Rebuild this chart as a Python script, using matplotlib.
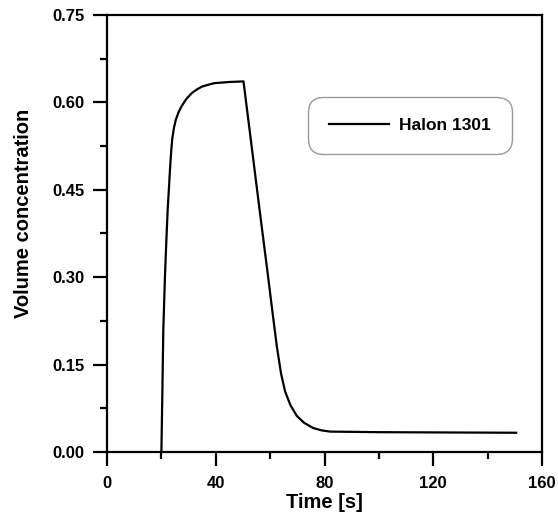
import matplotlib
matplotlib.use("Agg")
import matplotlib.pyplot as plt
from matplotlib.ticker import MultipleLocator, FormatStrFormatter

plt.rcParams['font.family'] = ['Liberation Sans', 'DejaVu Sans']
plt.rcParams['font.weight'] = 'bold'

time_s = [20.0, 20.35, 20.7, 21.3, 21.8, 22.3, 22.8, 23.2, 23.6, 24.0, 24.6, 25.3,
          26.3, 27.5, 29.2, 31.2, 33.0, 34.9, 37.0, 39.5, 45.0, 50.2,
          53.0, 56.0, 59.0, 61.0, 62.5, 64.0, 65.5, 67.5, 69.8, 72.5, 75.9,
          79.0, 82.1, 100.0, 150.5]
conc = [0.000, 0.100, 0.209, 0.300, 0.360, 0.415, 0.455, 0.488, 0.516, 0.538, 0.556, 0.570,
        0.583, 0.594, 0.606, 0.616, 0.622, 0.627, 0.630, 0.633, 0.635, 0.636,
        0.532, 0.420, 0.310, 0.235, 0.180, 0.135, 0.104, 0.080, 0.062, 0.050, 0.041,
        0.037, 0.035, 0.034, 0.033]
series_label = "Halon 1301"

fig = plt.figure(figsize=(5.58, 5.20), dpi=100)
ax = fig.add_axes([0.1918, 0.1308, 0.7795, 0.8404])

ax.plot(time_s, conc, color='black', lw=1.6, label=series_label)

ax.set_xlim(0, 160)
ax.set_ylim(0, 0.75)
ax.xaxis.set_major_locator(MultipleLocator(40))
ax.xaxis.set_minor_locator(MultipleLocator(20))
ax.yaxis.set_major_locator(MultipleLocator(0.15))
ax.yaxis.set_minor_locator(MultipleLocator(0.075))
ax.yaxis.set_major_formatter(FormatStrFormatter('%.2f'))

for s in ax.spines.values():
    s.set_linewidth(1.6)
ax.tick_params(which='major', length=10, width=1.6, direction='out', labelsize=12)
ax.tick_params(axis='x', which='major', pad=7)
ax.tick_params(axis='y', which='major', pad=6)
ax.tick_params(which='minor', length=5, width=1.6, direction='out')
ax.tick_params(top=False, right=False, which='both')

ax.set_xlabel("Time [s]", fontsize=14.5, fontweight='bold')
ax.set_ylabel("Volume concentration", fontsize=14.5, fontweight='bold')
ax.xaxis.set_label_coords(0.5, -0.095)
ax.yaxis.set_label_coords(-0.17, 0.545)

leg = ax.legend(loc='upper right', bbox_to_anchor=(0.930, 0.813), borderaxespad=0,
                fancybox=True, frameon=True, fontsize=12.5, handlelength=3.5,
                handletextpad=0.55, borderpad=1.2)
leg.get_frame().set_edgecolor('#808080')
leg.get_frame().set_linewidth(1.0)
leg.get_frame().set_boxstyle('round,pad=0,rounding_size=0.9')
for t in leg.get_texts():
    t.set_fontweight('bold')

fig.savefig("out.png", dpi=100)
